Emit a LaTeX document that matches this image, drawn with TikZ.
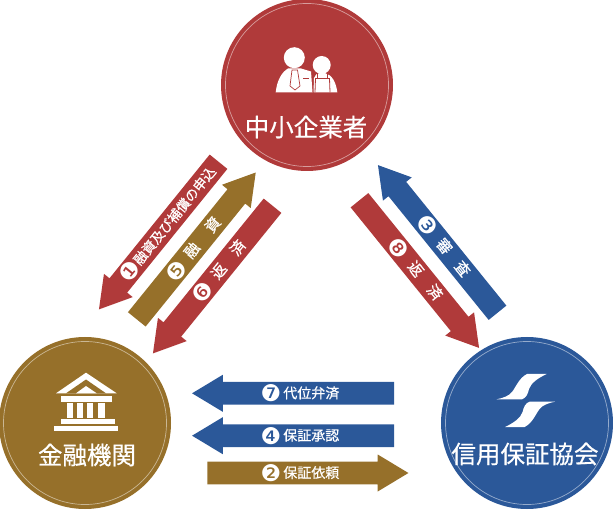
\documentclass[tikz,border=0pt]{standalone}
\usepackage{fontspec}
\setmainfont{Noto Sans CJK JP}
\newfontfamily\numfont{DejaVu Sans}
\newfontfamily\namefont[FakeBold=0.5]{Noto Sans CJK JP}
\usetikzlibrary{shapes.arrows}
\definecolor{redc}{HTML}{B03A3A}
\definecolor{goldc}{HTML}{96702A}
\definecolor{bluec}{HTML}{2B5899}
\newcommand{\num}[1]{\raisebox{-3.5pt}{\numfont\fontsize{23}{23}\selectfont #1}}
\tikzset{
	party/.style={circle, minimum size=172pt, inner sep=0pt},
	ring/.style={circle, draw=white, draw opacity=0.5, line width=0.7pt, minimum size=163pt, inner sep=0pt},
	partyname/.style={text=white, font=\namefont\fontsize{24.5}{25}\selectfont, inner sep=0pt},
	flow/.style={single arrow, single arrow head extend=5.5pt, single arrow tip angle=62,
		minimum width=37pt, inner sep=0pt, text=white, font=\namefont\fontsize{13.5}{14}\selectfont},
	wide/.style={font=\namefont\fontsize{15}{15}\selectfont},
	flat/.style={font=\namefont\fontsize{14}{14}\selectfont},
	back/.style={shape border rotate=180},
	icon/.style={fill=white, draw=none}
}
\begin{document}
\begin{tikzpicture}[x=1pt, y=-1pt]
\useasboundingbox (0,0) rectangle (613,510);
% parties
\node[party, fill=redc] (chusho) at (307,85) {};
\node[party, fill=goldc] (kinyu) at (85,423) {};
\node[party, fill=bluec] (hosho) at (527,423) {};
\node[ring] (chushoring) at (chusho) {};
\node[ring] (kinyuring) at (kinyu) {};
\node[ring] (hoshoring) at (hosho) {};
\node[partyname] (chushoname) at (306,127) {中小企業者};
\node[partyname] (kinyuname) at (87,455) {金融機関};
\node[partyname] (hoshoname) at (525,454) {信用保証協会};
% left arrows
\node[flow, back, fill=redc, rotate=51, minimum height=190pt] (moshikomi) at (164.7,228.2) {\hspace*{11pt}\num{❶}融資及び補償の申込};
\node[flow, wide, fill=goldc, rotate=51, minimum height=189pt] (yushi) at (190.3,253.3) {\hspace*{11pt}\num{❺}\hspace{8pt}融\hspace{18pt}資};
\node[flow, wide, back, fill=redc, rotate=51, minimum height=190pt] (hensai) at (218.7,272.2) {\hspace*{2pt}\num{❻}\hspace{9pt}返\hspace{15pt}済};
% right arrows
\node[flow, wide, back, fill=bluec, rotate=-51, minimum height=190pt] (shinsa) at (443.7,246.3) {\num{❸}\hspace{9pt}審\hspace{14pt}査};
\node[flow, wide, fill=redc, rotate=-51, minimum height=190pt] (hensaib) at (413.3,266.7) {\hspace*{7pt}\num{❽}\hspace{9pt}返\hspace{15pt}済};
% bottom arrows
\node[flow, flat, back, fill=bluec, minimum height=202pt] (daii) at (302.5,393.3) {\num{❼}\hspace{2pt}代位弁済\hspace*{5pt}};
\node[flow, flat, back, fill=bluec, minimum height=202pt] (shonin) at (302.5,435.7) {\num{❹}\hspace{2pt}保証承認\hspace*{5pt}};
\node[flow, flat, fill=goldc, minimum height=201pt] (irai) at (298.5,473) {\hspace*{3pt}\num{❷}\hspace{2pt}保証依頼};
% people
\fill[icon] (294.3,57.7) circle (10.5);
\fill[icon] (321.7,65) circle (9);
\fill[icon] (275.7,92.3) .. controls (277,80) and (282,72) .. (288,68.5) -- (301,68.5) -- (311,71.5) -- (312.5,92.3) -- cycle;
\fill[icon] (313.5,92.3) -- (314,78) .. controls (315,75) and (317,73) .. (320,73) -- (325,73) .. controls (332,75) and (336,82) .. (337.3,92.3) -- cycle;
\draw[redc, line width=0.7pt] (292,70) -- (290,86) -- (295,90) -- (300,86) -- (297.5,70) -- cycle;
\draw[redc, line width=0.8pt] (303,78.3) -- (309,78.3);
\draw[redc, line width=0.8pt] (315,92.3) -- (315.5,78.5) -- (329.5,78.5) -- (330,92.3);
\draw[redc, line width=0.8pt] (317.5,78.5) -- (317.5,73) (327.5,78.5) -- (327.5,73);
% bank
\fill[icon] (86,372.7) -- (116.7,393.3) -- (56,393.3) -- cycle;
\fill[goldc] (86,379.5) -- (106,393.3) -- (66,393.3) -- cycle;
\fill[icon] (86,386) -- (96.7,393.3) -- (76,393.3) -- cycle;
\fill[icon] (61,395.7) rectangle (111.7,401.7);
\foreach \xa/\xb in {66.7/72.7, 77.3/82.7, 87.3/93.3, 98.3/105}
	\fill[icon] (\xa,403.3) rectangle (\xb,418.3);
\fill[icon] (61,419.3) rectangle (115,424);
\fill[icon] (54,426) rectangle (118.3,431);
% logo
\fill[icon] (546.7,374) -- (527,374) .. controls (519,378) and (516,387) .. (512,392) .. controls (509,396) and (503,398) .. (496.7,399.3) -- (522,399.3) .. controls (526,398) and (528,394) .. (529,389) .. controls (531,383) and (538,378) .. (546.7,374) -- cycle;
\fill[icon] (505,427) -- (524.6,427) .. controls (532.6,423) and (535.6,414) .. (539.6,409) .. controls (542.6,405) and (548.6,403) .. (555,401.7) -- (529.6,401.7) .. controls (525.6,403) and (523.6,407) .. (522.6,412) .. controls (520.6,418) and (513.6,423) .. (505,427) -- cycle;
\end{tikzpicture}
\end{document}
